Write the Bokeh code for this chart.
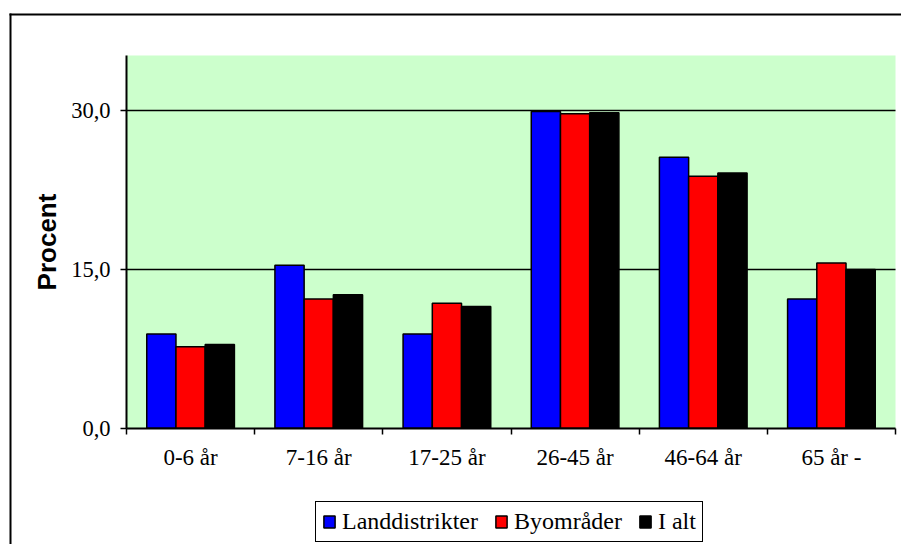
from bokeh.plotting import figure
from bokeh.models import (ColumnDataSource, Range1d, FixedTicker, Legend, LegendItem,
                          BoxAnnotation, Grid)
from bokeh.transform import dodge
from bokeh.embed import file_html
from bokeh.resources import INLINE

categories = ["0-6 år", "7-16 år", "17-25 år", "26-45 år", "46-64 år", "65 år -"]
landdistrikter = [8.9, 15.4, 8.9, 29.9, 25.6, 12.2]
byomraader = [7.7, 12.2, 11.8, 29.7, 23.8, 15.6]
i_alt = [7.9, 12.6, 11.5, 29.8, 24.1, 15.0]
series_names = ["Landdistrikter", "Byområder", "I alt"]
series_colors = ["#0000FF", "#FF0000", "#000000"]
y_ticks = [0, 15, 30]
y_tick_labels = ["0,0", "15,0", "30,0"]
y_top = 35.2

# layout (pixels inside the canvas)
W, H = 901, 544
PL, PR, PT, PB = 126, 895, 55, 427.7   # plot area edges
n = len(categories)
sx = (PR - PL) / n
sy = (PB - PT) / y_top
x_start, x_end = -PL / sx, n + (W - PR) / sx
y_start, y_end = -(H - PB) / sy, y_top + PT / sy

xpos = [i + 0.5 for i in range(n)]
source = ColumnDataSource(dict(x=xpos, a=landdistrikter, b=byomraader, c=i_alt))

p = figure(width=W, height=H, x_range=Range1d(x_start, x_end), y_range=Range1d(y_start, y_end),
           output_backend="svg", toolbar_location=None,
           min_border_left=0, min_border_right=0, min_border_top=0, min_border_bottom=0,
           background_fill_color="white", border_fill_color="white", outline_line_color=None)

# plot area background
p.add_layout(BoxAnnotation(left=0, right=n, bottom=0, top=y_top, fill_color="#CCFFCC",
                           fill_alpha=1.0, line_color=None, level="image"))

bw = 0.228
renderers = []
for key, off, col in zip(["a", "b", "c"], [-bw, 0, bw], series_colors):
    r = p.vbar(x=dodge("x", off), top=key, width=bw, bottom=0, source=source,
               fill_color=col, line_color="black", line_width=1.5)
    renderers.append(r)

# axes
p.xaxis.fixed_location = 0
p.xaxis.bounds = (0, n)
p.xaxis.ticker = FixedTicker(ticks=xpos, minor_ticks=list(range(n + 1)))
p.xaxis.major_label_overrides = {x: c for x, c in zip(xpos, categories)}
p.xaxis.major_tick_line_color = None
p.xaxis.minor_tick_line_color = "black"
p.xaxis.minor_tick_line_width = 1.5
p.xaxis.minor_tick_out = 6
p.xaxis.minor_tick_in = 0
p.xaxis.axis_line_color = "black"
p.xaxis.axis_line_width = 2
p.xaxis.major_label_text_font = "Liberation Serif"
p.xaxis.major_label_text_font_size = "23px"
p.xaxis.major_label_text_color = "black"
p.xaxis.major_label_standoff = 11

p.yaxis.fixed_location = 0
p.yaxis.bounds = (0, y_top)
p.yaxis.ticker = FixedTicker(ticks=y_ticks, minor_ticks=[])
p.yaxis.major_label_overrides = {t: l for t, l in zip(y_ticks, y_tick_labels)}
p.yaxis.major_tick_line_color = "black"
p.yaxis.major_tick_line_width = 1.5
p.yaxis.major_tick_out = 6
p.yaxis.major_tick_in = 0
p.yaxis.axis_line_color = "black"
p.yaxis.axis_line_width = 2
p.yaxis.major_label_text_font = "Liberation Serif"
p.yaxis.major_label_text_font_size = "22.5px"
p.yaxis.major_label_text_color = "black"
p.yaxis.major_label_standoff = 10
p.yaxis.axis_label = "Procent"
p.yaxis.axis_label_text_font = "Liberation Sans"
p.yaxis.axis_label_text_font_style = "bold"
p.yaxis.axis_label_text_font_size = "26px"
p.yaxis.axis_label_text_color = "black"
p.yaxis.axis_label_standoff = 6

p.xgrid.grid_line_color = None
grid_ticks = [15, 30]
p.ygrid.ticker = FixedTicker(ticks=grid_ticks)
if "cross_bounds" in Grid.properties():
    p.ygrid.cross_bounds = (0, n)
    p.ygrid.grid_line_color = "black"
    p.ygrid.grid_line_width = 1.5
else:
    p.ygrid.grid_line_color = None
    p.segment(x0=[0] * len(grid_ticks), x1=[n] * len(grid_ticks), y0=grid_ticks, y1=grid_ticks,
              line_color="black", line_width=1.5, level="underlay")

legend = Legend(items=[LegendItem(label=s, renderers=[r]) for s, r in zip(series_names, renderers)],
                orientation="horizontal", location=(315, 2),
                label_text_font="Liberation Serif", label_text_font_size="24px",
                label_text_color="black", glyph_width=14, glyph_height=15,
                label_standoff=6, spacing=16, padding=6, margin=0,
                border_line_color="black", border_line_width=1.5, border_line_alpha=1.0,
                background_fill_color="white", background_fill_alpha=1.0)
p.add_layout(legend, "center")

# outer chart frame: only its top and left edges fall inside the picture
p.add_layout(BoxAnnotation(left=x_start + 9 / sx, right=x_end, top=y_end - 13 / sy,
                           bottom=y_end - 15 / sy, fill_color="black", fill_alpha=1.0,
                           line_color=None, level="annotation"))
p.add_layout(BoxAnnotation(left=x_start + 9 / sx, right=x_start + 11 / sx, top=y_end - 13 / sy,
                           bottom=y_start, fill_color="black", fill_alpha=1.0,
                           line_color=None, level="annotation"))

open("out.html", "w").write(file_html(p, INLINE))
